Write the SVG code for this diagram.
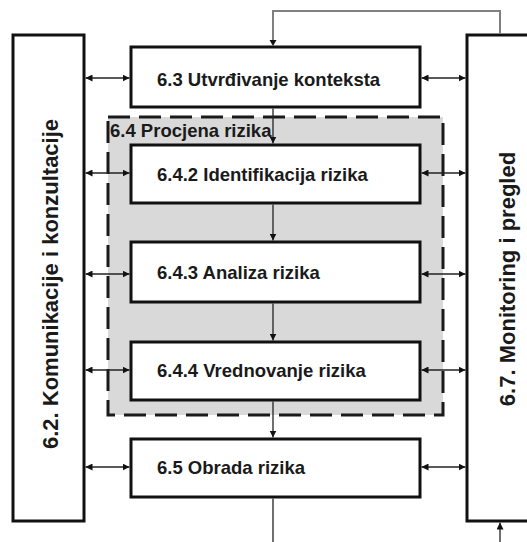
<svg xmlns="http://www.w3.org/2000/svg" width="527" height="542" viewBox="0 0 527 542">
  <style>
    .box { fill: #ffffff; stroke: #111111; stroke-width: 3; }
    .lbl { font-family: "Liberation Sans", Arial, sans-serif; font-weight: bold; font-size: 18.5px; fill: #1a1a1a; }
    .side { font-family: "Liberation Sans", Arial, sans-serif; font-weight: bold; font-size: 22px; fill: #1a1a1a; text-anchor: middle; }
    .con { fill: none; stroke: #222222; stroke-width: 1.3; }
    .fb { fill: none; stroke: #808080; stroke-width: 2; }
  </style>
  <defs>
    <marker id="ah" markerUnits="userSpaceOnUse" markerWidth="7" markerHeight="7" refX="7" refY="3.5" orient="auto-start-reverse">
      <path d="M0,0 L7,3.5 L0,7 z" fill="#111111"/>
    </marker>
  </defs>
  <rect width="527" height="542" fill="#ffffff"/>

  <g id="procjena">
    <rect x="108" y="117" width="335" height="298" fill="#d9d9d9" stroke="#1a1a1a" stroke-width="3" stroke-dasharray="22 9"/>
    <text class="lbl" x="110" y="137">6.4 Procjena rizika</text>
  </g>

  <g id="komunikacije">
    <rect class="box" x="13" y="35" width="71" height="486"/>
    <text class="side" transform="translate(58,284) rotate(-90)">6.2. Komunikacije i konzultacije</text>
  </g>

  <g id="monitoring">
    <rect class="box" x="467" y="35" width="70" height="486"/>
    <text class="side" transform="translate(515,279) rotate(-90)">6.7. Monitoring i pregled</text>
  </g>

  <g id="kontekst">
    <rect class="box" x="131" y="47" width="289" height="60"/>
    <text class="lbl" x="157" y="86">6.3 Utvrđivanje konteksta</text>
  </g>

  <g id="identifikacija">
    <rect class="box" x="131" y="145" width="289" height="58"/>
    <text class="lbl" x="157" y="181">6.4.2 Identifikacija rizika</text>
  </g>

  <g id="analiza">
    <rect class="box" x="131" y="242" width="289" height="60"/>
    <text class="lbl" x="157" y="279">6.4.3 Analiza rizika</text>
  </g>

  <g id="vrednovanje">
    <rect class="box" x="131" y="342" width="289" height="58"/>
    <text class="lbl" x="157" y="377">6.4.4 Vrednovanje rizika</text>
  </g>

  <g id="obrada">
    <rect class="box" x="131" y="439" width="289" height="58"/>
    <text class="lbl" x="157" y="474">6.5 Obrada rizika</text>
  </g>

  <g id="connectors">
    <path class="fb" d="M500,34 V11 H273 V40"/>
    <path d="M269.5,40 L276.5,40 L273,46 z" fill="#111111"/>

    <line class="con" x1="273" y1="108.5" x2="273" y2="143.5" marker-end="url(#ah)"/>
    <line class="con" x1="273" y1="204.5" x2="273" y2="240.5" marker-end="url(#ah)"/>
    <line class="con" x1="273" y1="303.5" x2="273" y2="340.5" marker-end="url(#ah)"/>
    <line class="con" x1="273" y1="401.5" x2="273" y2="437.5" marker-end="url(#ah)"/>
    <line class="con" x1="273" y1="498.5" x2="273" y2="542"/>
    <line class="con" x1="500" y1="542" x2="500" y2="522.5" marker-end="url(#ah)"/>

    <line class="con" x1="85.5" y1="78" x2="129.5" y2="78" marker-start="url(#ah)" marker-end="url(#ah)"/>
    <line class="con" x1="85.5" y1="173" x2="129.5" y2="173" marker-start="url(#ah)" marker-end="url(#ah)"/>
    <line class="con" x1="85.5" y1="274" x2="129.5" y2="274" marker-start="url(#ah)" marker-end="url(#ah)"/>
    <line class="con" x1="85.5" y1="370" x2="129.5" y2="370" marker-start="url(#ah)" marker-end="url(#ah)"/>
    <line class="con" x1="85.5" y1="467" x2="129.5" y2="467" marker-start="url(#ah)" marker-end="url(#ah)"/>

    <line class="con" x1="421.5" y1="78" x2="465.5" y2="78" marker-start="url(#ah)" marker-end="url(#ah)"/>
    <line class="con" x1="421.5" y1="173" x2="465.5" y2="173" marker-start="url(#ah)" marker-end="url(#ah)"/>
    <line class="con" x1="421.5" y1="274" x2="465.5" y2="274" marker-start="url(#ah)" marker-end="url(#ah)"/>
    <line class="con" x1="421.5" y1="370" x2="465.5" y2="370" marker-start="url(#ah)" marker-end="url(#ah)"/>
    <line class="con" x1="421.5" y1="467" x2="465.5" y2="467" marker-start="url(#ah)" marker-end="url(#ah)"/>
  </g>
</svg>
